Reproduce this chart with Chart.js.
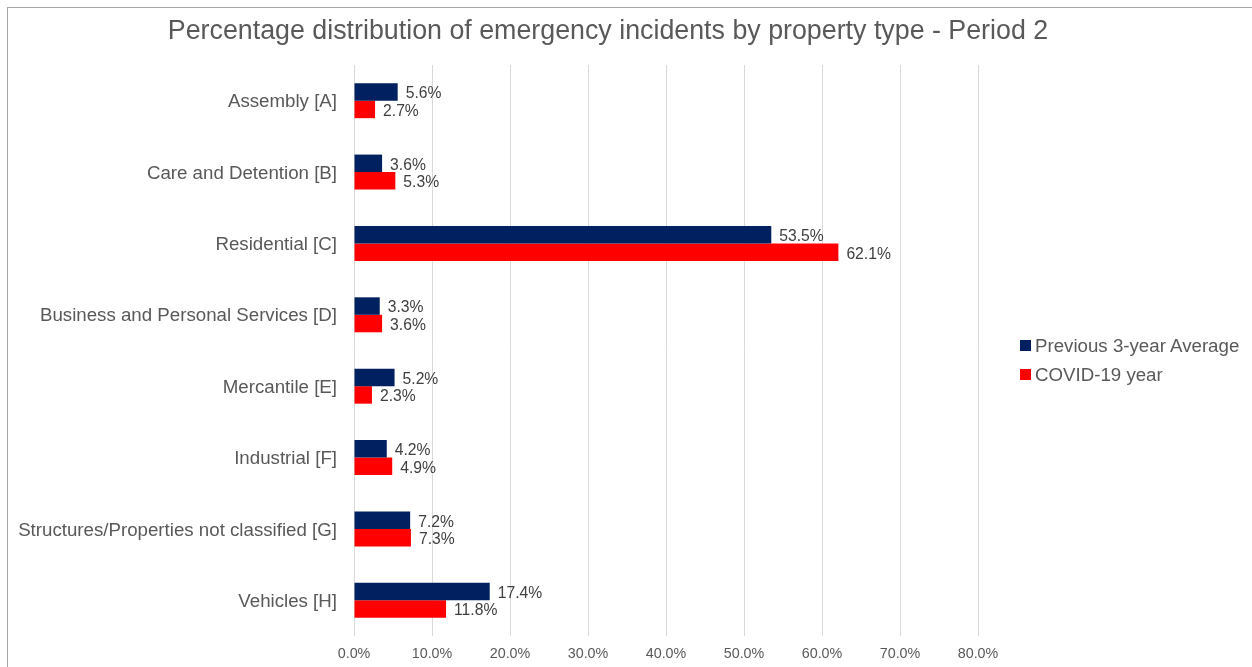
<!DOCTYPE html>
<html>
<head>
<meta charset="utf-8">
<script src="https://cdn.jsdelivr.net/npm/chart.js@4"></script>
<style>
  html, body { margin: 0; padding: 0; background: #fff; overflow: hidden; }
  #wrap { position: relative; width: 1252px; height: 667px; }
  #frame { position: absolute; left: 7px; top: 7px; width: 1400px; height: 800px;
           border: 1px solid #a6a6a6; box-sizing: border-box; pointer-events: none; }
  #legend { position: absolute; left: 1020px; top: 331px; font-family: "Liberation Sans", Arial, sans-serif;
            font-size: 18.7px; color: #595959; }
  .item { display: flex; align-items: center; height: 29px; white-space: nowrap; }
  .swatch { width: 11px; height: 11px; margin-right: 4px; }
</style>
</head>
<body>
<div id="wrap">
  <canvas id="c" width="1252" height="667"></canvas>
  <div id="frame"></div>
  <div id="legend"></div>
</div>
<script>
const categories = [
  'Assembly [A]',
  'Care and Detention [B]',
  'Residential [C]',
  'Business and Personal Services [D]',
  'Mercantile [E]',
  'Industrial [F]',
  'Structures/Properties not classified [G]',
  'Vehicles [H]'
];
const seriesNames = ['Previous 3-year Average', 'COVID-19 year'];
const previousAvg = [5.6, 3.6, 53.5, 3.3, 5.2, 4.2, 7.2, 17.4];
const covidYear   = [2.7, 5.3, 62.1, 3.6, 2.3, 4.9, 7.3, 11.8];
const seriesColors = ['#002060', '#FF0000'];
const xTicks = [0, 10, 20, 30, 40, 50, 60, 70, 80];
const titleText = 'Percentage distribution of emergency incidents by property type - Period 2';

const FONT = '"Liberation Sans", Arial, sans-serif';
const TEXT = '#595959';

// legend
const legendEl = document.getElementById('legend');
seriesNames.forEach((n, i) => {
  const d = document.createElement('div');
  d.className = 'item';
  d.innerHTML = '<span class="swatch" style="background:' + seriesColors[i] + '"></span><span>' + n + '</span>';
  legendEl.appendChild(d);
});

// title drawn above the plot
const titlePlugin = {
  id: 'chartTitle',
  afterDraw(chart) {
    const ctx = chart.ctx;
    ctx.save();
    ctx.font = '26.8px ' + FONT;
    ctx.fillStyle = TEXT;
    ctx.textAlign = 'center';
    ctx.textBaseline = 'middle';
    ctx.fillText(titleText, 608, 32);
    ctx.restore();
  }
};

// value labels at the end of each bar
const valueLabels = {
  id: 'valueLabels',
  afterDatasetsDraw(chart) {
    const ctx = chart.ctx;
    ctx.save();
    ctx.font = '15.7px ' + FONT;
    ctx.fillStyle = '#404040';
    ctx.textAlign = 'left';
    ctx.textBaseline = 'middle';
    chart.data.datasets.forEach((ds, di) => {
      chart.getDatasetMeta(di).data.forEach((bar, i) => {
        ctx.fillText(ds.data[i].toFixed(1) + '%', bar.x + 8, bar.y + 2);
      });
    });
    ctx.restore();
  }
};

new Chart(document.getElementById('c'), {
  type: 'bar',
  data: {
    labels: categories,
    datasets: [
      { label: seriesNames[0], data: previousAvg, backgroundColor: seriesColors[0] },
      { label: seriesNames[1], data: covidYear, backgroundColor: seriesColors[1] }
    ]
  },
  options: {
    indexAxis: 'y',
    responsive: false,
    animation: false,
    devicePixelRatio: 1,
    layout: { padding: { left: 0, right: 274, top: 65, bottom: 0 } },
    datasets: { bar: { barPercentage: 1, categoryPercentage: 0.49 } },
    plugins: { legend: { display: false }, title: { display: false }, tooltip: { enabled: false } },
    scales: {
      x: {
        min: 0, max: 80,
        afterBuildTicks(scale) { scale.ticks = xTicks.map(v => ({ value: v })); },
        afterFit(scale) { scale.height = 31; },
        grid: { color: '#d9d9d9', drawTicks: false, lineWidth: 1 },
        border: { display: false },
        ticks: {
          padding: 9,
          color: TEXT,
          font: { family: FONT, size: 14.3 },
          callback: v => Number(v).toFixed(1) + '%'
        }
      },
      y: {
        afterFit(scale) { scale.width = 354; },
        grid: { display: false, drawTicks: false },
        border: { display: false },
        ticks: {
          padding: 17,
          labelOffset: 1.5,
          color: TEXT,
          font: { family: FONT, size: 18.7 }
        }
      }
    }
  },
  plugins: [titlePlugin, valueLabels]
});
</script>
</body>
</html>
